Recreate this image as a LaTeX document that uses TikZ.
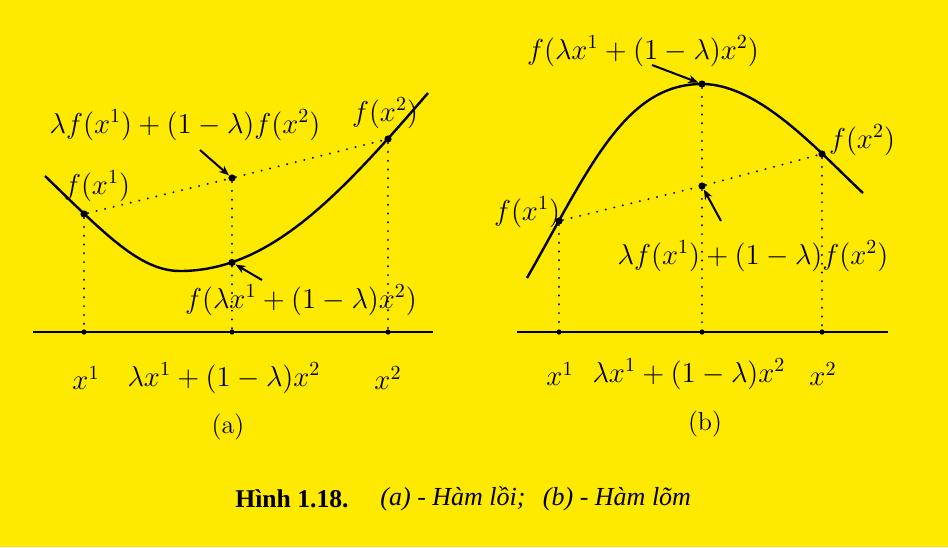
\documentclass[tikz,border=0pt]{standalone}
\usepackage{fontspec}
\newfontfamily\capfont{Liberation Serif}
\usetikzlibrary{arrows.meta}
\definecolor{bg}{RGB}{254,233,0}
\begin{document}
\begin{tikzpicture}[x=0.5pt,y=-0.5pt,
 lbl/.style={inner sep=0pt, font=\fontsize{13.6}{16}\selectfont},
 sub/.style={inner sep=0pt, font=\fontsize{13}{15}\selectfont},
 captext/.style={inner sep=0pt},
 curve/.style={line width=1.2pt},
 axisline/.style={line width=1.2pt},
 dotline/.style={line width=1pt, dash pattern=on 0.1pt off 4.3pt, line cap=round},
 pt/.style={circle, fill=black, inner sep=0pt, minimum size=3.6pt},
 tick/.style={circle, fill=black, inner sep=0pt, minimum size=2.6pt},
 ptr/.style={line width=1pt, -{Stealth[length=5pt,width=4pt]}},
]
\fill[bg] (0,0) rectangle (948,547);
\useasboundingbox (0,0) rectangle (948,547);

% ---------- panel (a) ----------
\draw[axisline] (33,332) -- (433,332);
\node[tick] (ta1) at (84,332) {};
\node[tick] (tam) at (232,332) {};
\node[tick] (ta2) at (388,332) {};
\coordinate (ca0) at (45,176);
\coordinate (camin) at (180,271);
\coordinate (ca9) at (428,93);
\draw[curve] (ca0) .. controls (105,234) and (140,271) .. (camin)
                   .. controls (270,271) and (340,195) .. (ca9);
\node[pt] (pa1) at (84,214) {};
\node[pt] (pam) at (232,262.5) {};
\node[pt] (pa2) at (388,139) {};
\node[pt] (ca) at (232,178) {};
\draw[dotline] (pa1) -- (ca) -- (pa2);
\draw[dotline] (pa1) -- (ta1);
\draw[dotline] (ca) -- (pam) -- (tam);
\draw[dotline] (pa2) -- (ta2);
\node[lbl] (la1) at (97,186) {$f(x^1)$};
\node[lbl] (la2) at (385,113) {$f(x^2)$};
\node[lbl] (lac) at (185,125) {$\lambda f(x^1)+(1-\lambda)f(x^2)$};
\node[lbl] (laf) at (301,300) {$f(\lambda x^1+(1-\lambda)x^2)$};
\coordinate (sa1) at (200,150);
\coordinate (sa2) at (262,280);
\draw[ptr] (sa1) -- (ca);
\draw[ptr] (sa2) -- (pam);
\node[lbl] (xa1) at (86,378) {$x^1$};
\node[lbl] (xam) at (224,378) {$\lambda x^1+(1-\lambda)x^2$};
\node[lbl] (xa2) at (388,378) {$x^2$};
\node[sub] (suba) at (228,427) {(a)};

% ---------- panel (b) ----------
\draw[axisline] (517,332) -- (888,332);
\node[tick] (tb1) at (559,332) {};
\node[tick] (tbm) at (702,332) {};
\node[tick] (tb2) at (822,332) {};
\coordinate (cb0) at (527,278);
\coordinate (cbmax) at (702,84);
\coordinate (cb9) at (863,193);
\draw[curve] (cb0) .. controls (590,167) and (625,84) .. (cbmax)
                   .. controls (760,84) and (820,153) .. (cb9);
\node[pt] (pb1) at (559,221) {};
\node[pt] (pbm) at (702,84) {};
\node[pt] (pb2) at (822,154) {};
\node[pt] (cb) at (702,186) {};
\draw[dotline] (pb1) -- (cb) -- (pb2);
\draw[dotline] (pb1) -- (tb1);
\draw[dotline] (pbm) -- (cb) -- (tbm);
\draw[dotline] (pb2) -- (tb2);
\node[lbl] (lb1) at (527,212) {$f(x^1)$};
\node[lbl] (lb2) at (862,140) {$f(x^2)$};
\node[lbl] (lbf) at (643,51) {$f(\lambda x^1+(1-\lambda)x^2)$};
\node[lbl] (lbc) at (753,256) {$\lambda f(x^1)+(1-\lambda)f(x^2)$};
\coordinate (sb1) at (652,65);
\coordinate (sb2) at (721,221);
\draw[ptr] (sb1) -- (pbm);
\draw[ptr] (sb2) -- (cb);
\node[lbl] (xb1) at (560,374) {$x^1$};
\node[lbl] (xbm) at (689,374) {$\lambda x^1+(1-\lambda)x^2$};
\node[lbl] (xb2) at (823,374) {$x^2$};
\node[sub] (subb) at (705,424) {(b)};

% ---------- caption ----------
\node[captext, font=\capfont\bfseries\fontsize{12.8}{15}\selectfont] (c1) at (292,499) {Hình 1.18.};
\node[captext, font=\capfont\itshape\fontsize{13}{16}\selectfont] (c2) at (453,499) {(a) - Hàm lồi;};
\node[captext, font=\capfont\itshape\fontsize{13}{16}\selectfont] (c3) at (617,499) {(b) - Hàm lõm};
\end{tikzpicture}
\end{document}
